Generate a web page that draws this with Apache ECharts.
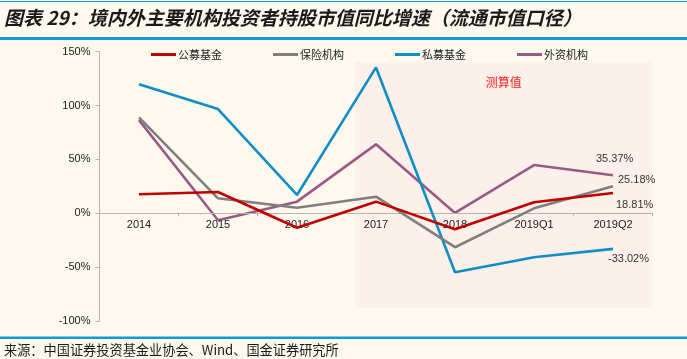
<!DOCTYPE html>
<html>
<head>
<meta charset="utf-8">
<script src="https://cdn.jsdelivr.net/npm/echarts@6/dist/echarts.min.js"></script>
<style>
html,body{margin:0;padding:0;background:#FEF9EF;}
#c{width:687px;height:359px;}
</style>
</head>
<body>
<div id="c"></div>
<script>
const categories = ['2014', '2015', '2016', '2017', '2018', '2019Q1', '2019Q2'];
const publicFund = [17.6, 19.8, -13.4, 10.8, -14.8, 10.2, 18.81];
const insurance = [89.1, 13.9, 5.2, 15.4, -31.5, 4.6, 25.18];
const privateFund = [119.7, 96.8, 17.0, 135.4, -54.7, -40.8, -33.02];
const foreignInst = [86.5, -6.5, 10.8, 64.0, 0.3, 44.8, 35.37];
const seriesNames = ['公募基金', '保险机构', '私募基金', '外资机构'];
const yTicks = { min: -100, max: 150, interval: 50 };
const estimateText = '测算值';
const titleText = '图表 29：境内外主要机构投资者持股市值同比增速（流通市值口径）';
const sourceText = '来源：中国证券投资基金业协会、Wind、国金证券研究所';

const colors = ['#C00000', '#7F7F7F', '#0F8DC4', '#9A5A86'];
const gridLeft = 99.5, gridRight = 34.5, gridTop = 51.7, gridBottom = 38;
const plotH = 359 - gridTop - gridBottom;
// grid whose bottom edge sits at the value 0 of the y scale (carries the category labels)
const zeroBottom = gridBottom + plotH * (0 - yTicks.min) / (yTicks.max - yTicks.min);

function endLbl(offset) {
  return {
    show: true,
    distance: 5,
    offset: offset,
    formatter: p => p.value.toFixed(2) + '%',
    fontFamily: 'Liberation Sans, Arial',
    fontSize: 11,
    color: '#333'
  };
}
function lineSeries(i, data, offset, z) {
  return {
    name: seriesNames[i], type: 'line', symbol: 'none', z: z,
    xAxisIndex: 0, yAxisIndex: 0,
    lineStyle: { width: 2.6, color: colors[i] }, itemStyle: { color: colors[i] },
    endLabel: endLbl(offset),
    data: data
  };
}
const axisColor = '#B8B4AC';

const chart = echarts.init(document.getElementById('c'));
chart.setOption({
  backgroundColor: '#FEF9EF',
  animation: false,
  grid: [
    { left: gridLeft, right: gridRight, top: gridTop, bottom: gridBottom },
    { left: gridLeft, right: gridRight, top: gridTop, bottom: gridBottom },
    { left: gridLeft, right: gridRight, top: gridTop, bottom: zeroBottom }
  ],
  legend: {
    left: 151, top: 49, padding: 0,
    icon: 'rect',
    itemWidth: 25, itemHeight: 3, itemGap: 51,
    textStyle: { fontFamily: 'Noto Sans CJK SC', fontSize: 11, color: '#222', padding: [0, 0, 0, -3] },
    data: seriesNames
  },
  xAxis: [{
    gridIndex: 0, type: 'category', data: categories, boundaryGap: true,
    axisLine: { show: false }, axisTick: { show: false }, axisLabel: { show: false }
  }, {
    gridIndex: 1, type: 'value', min: 0, max: categories.length, show: false
  }, {
    gridIndex: 2, type: 'category', data: categories, boundaryGap: true, position: 'bottom',
    axisLine: { onZero: false, lineStyle: { color: axisColor, width: 1 } },
    axisTick: { show: true, length: 3, lineStyle: { color: axisColor } },
    axisLabel: { fontFamily: 'Liberation Sans, Arial', fontSize: 11, color: '#222', margin: 6 },
    z: 3
  }],
  yAxis: [{
    gridIndex: 0, type: 'value',
    min: yTicks.min, max: yTicks.max, interval: yTicks.interval,
    splitLine: { show: false },
    axisLine: { show: true, onZero: false, lineStyle: { color: axisColor, width: 1 } },
    axisTick: { show: true, length: 4, lineStyle: { color: axisColor } },
    axisLabel: { formatter: '{value}%', fontFamily: 'Liberation Sans, Arial', fontSize: 11, color: '#222', margin: 9 }
  }, {
    gridIndex: 1, type: 'value', min: yTicks.min, max: yTicks.max, show: false
  }, {
    gridIndex: 2, type: 'value', min: 0, max: 1, show: false
  }],
  series: [
    {
      type: 'line', xAxisIndex: 1, yAxisIndex: 1, data: [], silent: true, z: 0,
      markArea: {
        silent: true,
        itemStyle: { color: '#FCF1EA' },
        label: { show: true, position: 'insideTop', distance: 14, formatter: estimateText, color: '#FF2020', fontSize: 12, fontFamily: 'Noto Sans CJK SC' },
        data: [[{ xAxis: 3.234, yAxis: 140.4 }, { xAxis: 7, yAxis: -87.9 }]]
      }
    },
    lineSeries(0, publicFund, [-2, 12], 5),
    lineSeries(1, insurance, [0, -6], 4),
    lineSeries(2, privateFund, [-10, 10], 3),
    lineSeries(3, foreignInst, [-22, -16], 2),
    { type: 'line', xAxisIndex: 2, yAxisIndex: 2, data: [], silent: true }
  ],
  graphic: [
    { type: 'rect', shape: { x: 0, y: 1, width: 687, height: 1 }, style: { fill: '#0E9BD8' }, silent: true },
    { type: 'text', left: 4, top: 8, style: { text: titleText, font: 'italic bold 19px "Noto Sans CJK SC"', fill: '#1A1A1A' } },
    { type: 'rect', shape: { x: 0, y: 37, width: 687, height: 3 }, style: { fill: '#0E9BD8' }, silent: true },
    { type: 'rect', shape: { x: 0, y: 336.5, width: 687, height: 2.5 }, style: { fill: '#0E9BD8' }, silent: true },
    { type: 'text', left: 4, top: 343, style: { text: sourceText, font: '13.2px "Noto Sans CJK SC"', fill: '#1A1A1A' } }
  ]
});
</script>
</body>
</html>
